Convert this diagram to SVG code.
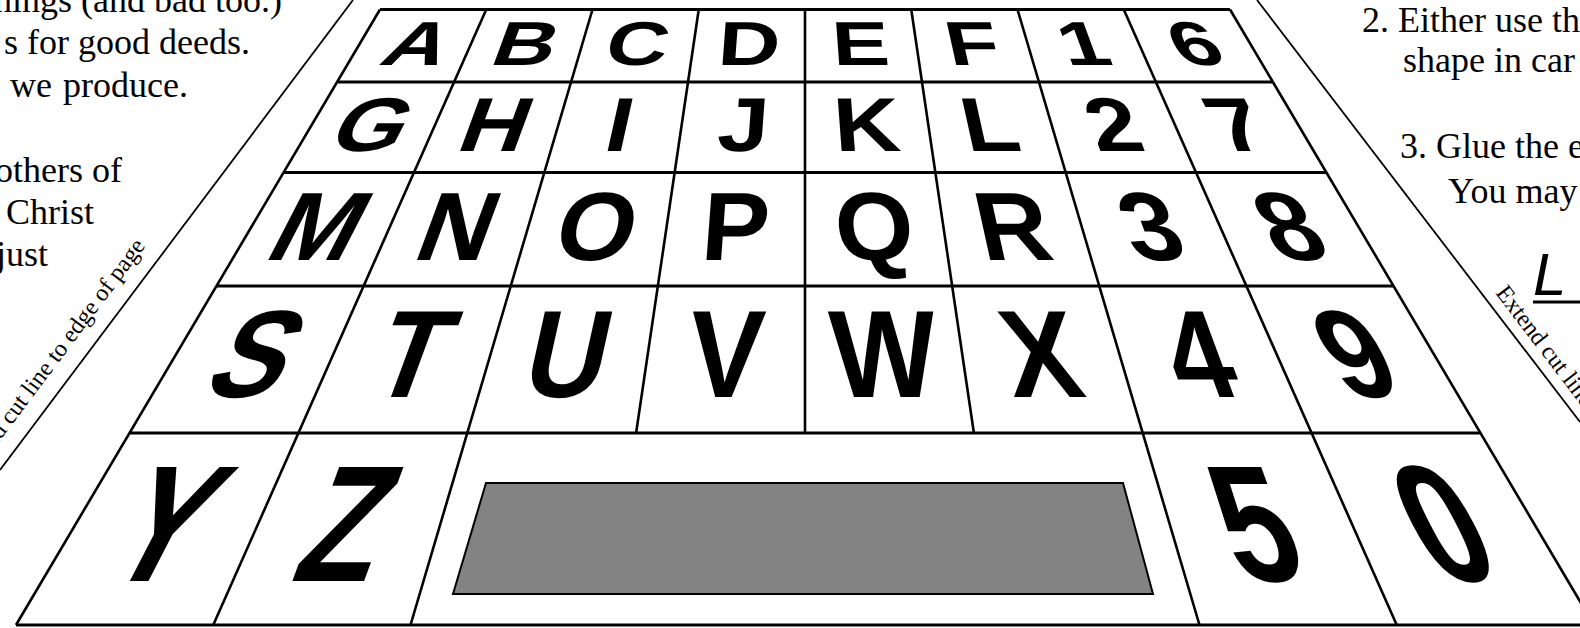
<svg xmlns="http://www.w3.org/2000/svg" width="1580" height="628" viewBox="0 0 1580 628">
<style>
.bg{fill:#fff}
.ln{stroke:#000;stroke-width:2.6;fill:none;stroke-linecap:butt}
.rw{stroke:#000;stroke-width:3;fill:none}
.cut{stroke:#000;stroke-width:1.8;fill:none}
.k{font-family:"Liberation Sans",Arial,sans-serif;font-weight:bold;font-size:100px;text-anchor:middle;fill:#000}
.t{font-family:"Liberation Serif","Times New Roman",serif;font-size:36px;fill:#000}
.r{font-family:"Liberation Serif","Times New Roman",serif;font-size:24px;fill:#000}
.big{font-family:"Liberation Sans",Arial,sans-serif;font-style:italic;font-size:60px;fill:#000}
</style>
<rect class="bg" x="0" y="0" width="1580" height="628"/>

<g id="left-text">
<text class="t" x="282" y="12" text-anchor="end">things (and bad too.)</text>
<text class="t" x="250" y="54" text-anchor="end">s for good deeds.</text>
<text class="t" y="97"><tspan x="10">we</tspan><tspan x="63">produce.</tspan></text>
<text class="t" x="122" y="182" text-anchor="end">others of</text>
<text class="t" x="6" y="224">Christ</text>
<text class="t" x="48" y="266" text-anchor="end">just</text>
<text class="r" transform="translate(146,246) rotate(-53.13)" text-anchor="end">Extend cut line to edge of page</text>
</g>

<g id="right-text">
<text class="t" x="1362" y="32">2. Either use th</text>
<text class="t" x="1403" y="72">shape in car</text>
<text class="t" x="1400" y="158">3. Glue the e</text>
<text class="t" x="1448" y="203">You may</text>
<text class="big" x="1533" y="295">L</text>
<line x1="1533" y1="302" x2="1580" y2="302" stroke="#000" stroke-width="3"/>
<text class="r" transform="translate(1495,293) rotate(52.57)">Extend cut line to edge of page</text>
</g>

<g id="cut-lines">
<line class="cut" x1="353" y1="0" x2="0" y2="470"/>
<line class="cut" x1="1257" y1="0" x2="1580" y2="422"/>
</g>

<g id="keyboard">
<polygon points="380,9.5 1230,9.5 1594,625 16,625" fill="#fff" stroke="none"/>
<polygon id="spacebar" points="486,483 1123,483 1153,594 453,594" fill="#838383" stroke="#000" stroke-width="2"/>
<g id="grid">
<line class="rw" x1="380" y1="9.5" x2="1230" y2="9.5"/>
<line class="rw" x1="337.1" y1="82" x2="1272.9" y2="82"/>
<line class="rw" x1="283.6" y1="172.5" x2="1326.4" y2="172.5"/>
<line class="rw" x1="216.5" y1="286" x2="1393.5" y2="286"/>
<line class="rw" x1="129.5" y1="433" x2="1480.5" y2="433"/>
<line class="rw" x1="16" y1="625" x2="1594" y2="625"/>
<line class="ln" x1="380" y1="9.5" x2="16" y2="625"/>
<line class="ln" x1="486.25" y1="9.5" x2="213.25" y2="625"/>
<line class="ln" x1="592.5" y1="9.5" x2="410.5" y2="625"/>
<line class="ln" x1="698.75" y1="9.5" x2="636.1" y2="433"/>
<line class="ln" x1="805" y1="9.5" x2="805" y2="433"/>
<line class="ln" x1="911.25" y1="9.5" x2="973.9" y2="433"/>
<line class="ln" x1="1017.5" y1="9.5" x2="1199.5" y2="625"/>
<line class="ln" x1="1123.75" y1="9.5" x2="1396.75" y2="625"/>
<line class="ln" x1="1230" y1="9.5" x2="1594" y2="625"/>
</g>

<g id="row1">
<g id="key-A"><text class="k" transform="translate(408,65) skewX(-27.3) scale(0.86,0.621)">A</text></g>
<g id="key-B"><text class="k" transform="translate(518.9,65) skewX(-20.24) scale(0.86,0.621)">B</text></g>
<g id="key-C"><text class="k" transform="translate(633.3,65) skewX(-12.47) scale(0.86,0.621)">C</text></g>
<g id="key-D"><text class="k" transform="translate(747.8,65) skewX(-4.22) scale(0.86,0.621)">D</text></g>
<g id="key-E"><text class="k" transform="translate(862.2,65) skewX(4.22) scale(0.86,0.621)">E</text></g>
<g id="key-F"><text class="k" transform="translate(976.7,65) skewX(12.47) scale(0.86,0.621)">F</text></g>
<g id="key-1"><text class="k" transform="translate(1091.1,65) skewX(20.24) scale(0.86,0.621)">1</text></g>
<g id="key-6"><text class="k" transform="translate(1205.6,65) skewX(27.3) scale(0.86,0.621)">6</text></g>
</g>
<g id="row2">
<g id="key-G"><text class="k" transform="translate(360.2,150.5) skewX(-27.3) scale(0.92,0.764)">G</text></g>
<g id="key-H"><text class="k" transform="translate(487.3,150.5) skewX(-20.24) scale(0.92,0.764)">H</text></g>
<g id="key-I"><text class="k" transform="translate(614.4,150.5) skewX(-12.47) scale(0.92,0.764)">I</text></g>
<g id="key-J"><text class="k" transform="translate(741.5,150.5) skewX(-4.22) scale(0.92,0.764)">J</text></g>
<g id="key-K"><text class="k" transform="translate(868.6,150.5) skewX(4.22) scale(0.92,0.764)">K</text></g>
<g id="key-L"><text class="k" transform="translate(995.7,150.5) skewX(12.47) scale(0.92,0.764)">L</text></g>
<g id="key-2"><text class="k" transform="translate(1122.8,150.5) skewX(20.24) scale(0.92,0.764)">2</text></g>
<g id="key-7"><text class="k" transform="translate(1249.9,150.5) skewX(27.3) scale(0.92,0.764)">7</text></g>
</g>
<g id="row3">
<g id="key-M"><text class="k" transform="translate(303.5,260) skewX(-27.3) scale(1.01,0.971)">M</text></g>
<g id="key-N"><text class="k" transform="translate(446.8,260) skewX(-20.24) scale(1.01,0.971)">N</text></g>
<g id="key-O"><text class="k" transform="translate(590.1,260) skewX(-12.47) scale(1.01,0.971)">O</text></g>
<g id="key-P"><text class="k" transform="translate(733.4,260) skewX(-4.22) scale(1.01,0.971)">P</text></g>
<g id="key-Q"><text class="k" transform="translate(876.6,260) skewX(4.22) scale(1.01,0.971)">Q</text></g>
<g id="key-R"><text class="k" transform="translate(1019.9,260) skewX(12.47) scale(1.01,0.971)">R</text></g>
<g id="key-3"><text class="k" transform="translate(1163.2,260) skewX(20.24) scale(1.01,0.971)">3</text></g>
<g id="key-8"><text class="k" transform="translate(1306.5,260) skewX(27.3) scale(1.01,0.971)">8</text></g>
</g>
<g id="row4">
<g id="key-S"><text class="k" transform="translate(236,397) skewX(-27.3) scale(1.12,1.243)">S</text></g>
<g id="key-T"><text class="k" transform="translate(399,397) skewX(-20.24) scale(1.12,1.243)">T</text></g>
<g id="key-U"><text class="k" transform="translate(559.8,397) skewX(-12.47) scale(1.12,1.243)">U</text></g>
<g id="key-V"><text class="k" transform="translate(723.3,397) skewX(-4.22) scale(1.12,1.243)">V</text></g>
<g id="key-W"><text class="k" transform="translate(886.8,397) skewX(4.22) scale(1.12,1.243)">W</text></g>
<g id="key-X"><text class="k" transform="translate(1050.3,397) skewX(12.47) scale(1.12,1.243)">X</text></g>
<g id="key-4"><text class="k" transform="translate(1213.8,397) skewX(20.24) scale(1.12,1.243)">4</text></g>
<g id="key-9"><text class="k" transform="translate(1377.3,397) skewX(27.3) scale(1.12,1.243)">9</text></g>
</g>
<g id="row5">
<g id="key-Y"><text class="k" transform="translate(139,581) skewX(-27.3) scale(1.3,1.657)">Y</text></g>
<g id="key-Z"><text class="k" transform="translate(328.1,581) skewX(-20.24) scale(1.3,1.657)">Z</text></g>
<g id="key-5"><text class="k" transform="translate(1276,581) skewX(20.24) scale(1.3,1.657)">5</text></g>
<g id="key-0"><text class="k" transform="translate(1472.6,581) skewX(27.3) scale(1.3,1.657)">0</text></g>
</g>
</g>
</svg>
